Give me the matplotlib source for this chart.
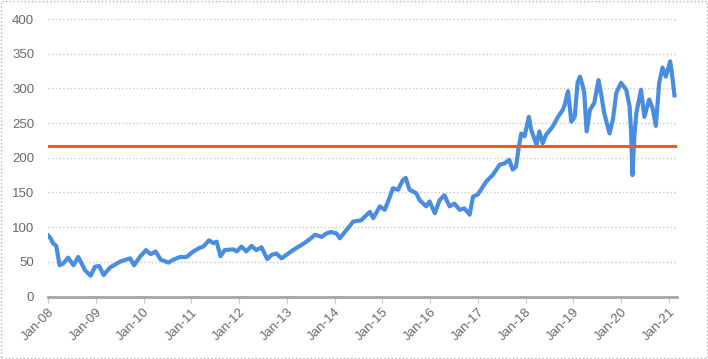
import numpy as np
import matplotlib
matplotlib.use("Agg")
import matplotlib.pyplot as plt
from matplotlib.patches import Rectangle

# --- data (decimal year, index level) ---
years = [2008.00, 2008.05, 2008.10, 2008.17, 2008.24, 2008.32, 2008.42, 2008.53,
         2008.63, 2008.70, 2008.77, 2008.89, 2008.98, 2009.07, 2009.16, 2009.30,
         2009.40, 2009.50, 2009.62, 2009.72, 2009.80, 2009.92, 2010.05, 2010.15,
         2010.25, 2010.36, 2010.52, 2010.62, 2010.76, 2010.90, 2011.04, 2011.17,
         2011.25, 2011.37, 2011.46, 2011.53, 2011.61, 2011.70, 2011.88, 2011.95,
         2012.05, 2012.15, 2012.26, 2012.36, 2012.47, 2012.59, 2012.68, 2012.78,
         2012.89, 2012.99, 2013.13, 2013.30, 2013.45, 2013.59, 2013.73, 2013.83,
         2013.92, 2014.04, 2014.11, 2014.25, 2014.39, 2014.56, 2014.63, 2014.74,
         2014.81, 2014.95, 2015.05, 2015.15, 2015.22, 2015.33, 2015.43, 2015.49,
         2015.57, 2015.71, 2015.78, 2015.92, 2015.99, 2016.10, 2016.20, 2016.30,
         2016.41, 2016.51, 2016.62, 2016.72, 2016.83, 2016.90, 2017.00, 2017.18,
         2017.31, 2017.46, 2017.56, 2017.66, 2017.73, 2017.80, 2017.86, 2017.91,
         2017.98, 2018.07, 2018.12, 2018.23, 2018.29, 2018.36, 2018.43, 2018.57,
         2018.68, 2018.78, 2018.82, 2018.89, 2018.96, 2019.03, 2019.09, 2019.14,
         2019.20, 2019.23, 2019.28, 2019.35, 2019.44, 2019.53, 2019.58, 2019.65,
         2019.76, 2019.83, 2019.90, 2020.00, 2020.11, 2020.18, 2020.21, 2020.24,
         2020.28, 2020.32, 2020.42, 2020.49, 2020.59, 2020.66, 2020.73, 2020.80,
         2020.87, 2020.94, 2021.03, 2021.07, 2021.12]
values = [88, 84, 77, 73, 45, 48, 56, 45,
          57, 48, 38, 30, 43, 44, 31, 42,
          46, 50, 53, 55, 45, 57, 67, 61,
          65, 53, 49, 53, 57, 57, 65, 70,
          72, 81, 77, 79, 58, 67, 68, 65,
          72, 65, 73, 67, 71, 54, 60, 62,
          55, 60, 67, 74, 81, 89, 86, 91,
          93, 91, 84, 96, 108, 110, 115, 122,
          113, 130, 125, 142, 156, 154, 168, 171,
          154, 149, 139, 130, 137, 120, 139, 146,
          130, 134, 125, 127, 118, 144, 147, 166,
          175, 190, 192, 197, 183, 187, 216, 235,
          231, 259, 240, 219, 238, 221, 233, 245,
          259, 269, 276, 296, 252, 259, 308, 317,
          303, 293, 238, 269, 279, 312, 293, 264,
          235, 255, 293, 308, 298, 274, 240, 175,
          231, 264, 298, 259, 284, 272, 246, 308,
          330, 317, 339, 320, 290]
average_level = 217

tick_years = list(range(2008, 2022))
tick_labels = ["Jan-08", "Jan-09", "Jan-10", "Jan-11", "Jan-12", "Jan-13", "Jan-14",
               "Jan-15", "Jan-16", "Jan-17", "Jan-18", "Jan-19", "Jan-20", "Jan-21"]
y_ticks = [0, 50, 100, 150, 200, 250, 300, 350, 400]

plt.rcParams['font.family'] = ['Liberation Sans', 'DejaVu Sans']

fig = plt.figure(figsize=(7.08, 3.59), dpi=100)
ax = fig.add_axes([0.068, 0.174, 0.888, 0.773])

# dotted frame round the whole chart
fig.patches.append(Rectangle((0.002, 0.003), 0.996, 0.994, transform=fig.transFigure,
                             fill=False, edgecolor='#b5b5b5', linestyle=':', linewidth=1))

ax.plot(years, values, color='#4a8de0', linewidth=3, solid_joinstyle='round')
ax.axhline(average_level, color='#f05a22', linewidth=2.2)

ax.set_xlim(2008.0, 2021.17)
ax.set_ylim(0, 400)
ax.set_yticks(y_ticks)
ax.set_xticks(tick_years)
ax.set_xticklabels(tick_labels, rotation=45, ha='right', rotation_mode='anchor')

ax.grid(axis='y', color='#c8c8c8', linestyle=':', linewidth=1)
ax.set_axisbelow(True)
for side in ['top', 'right', 'left']:
    ax.spines[side].set_visible(False)
ax.spines['bottom'].set_color('#a6a6a6')
ax.spines['bottom'].set_linewidth(2)

ax.tick_params(axis='y', length=0, pad=10, labelsize=9.5, labelcolor='#6a6a6a')
ax.tick_params(axis='x', length=4, width=0.8, color='#c8c8c8', pad=3,
               labelsize=9.5, labelcolor='#6a6a6a')

fig.savefig('out.png', dpi=100)
